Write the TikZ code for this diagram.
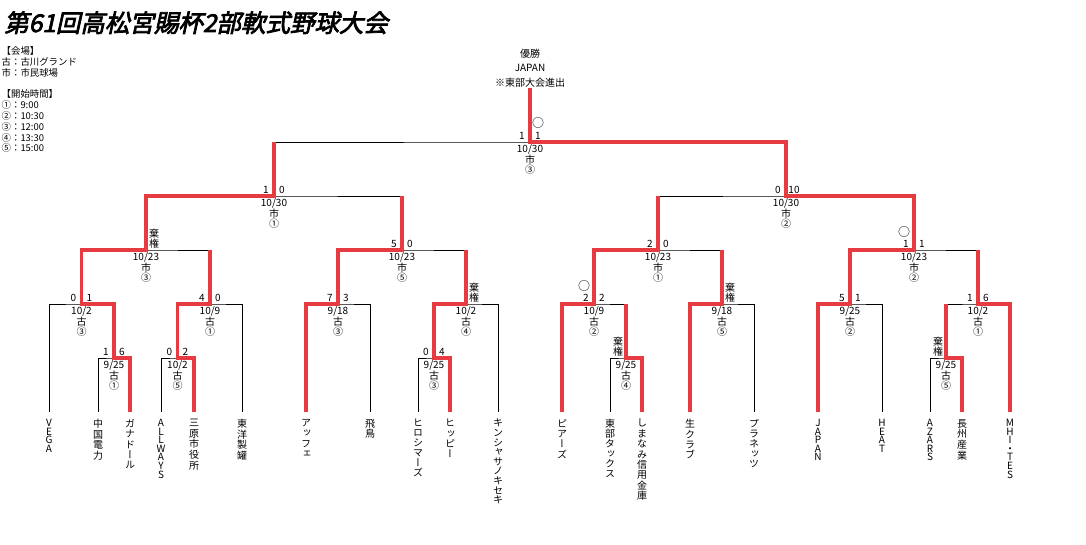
\documentclass[tikz,border=0pt]{standalone}
\usepackage{fontspec}
\setmainfont{Noto Sans CJK JP}
\newfontfamily\titlefont[FakeSlant=0.22,FakeBold=3]{Noto Sans CJK JP}
\newfontfamily\vfont[RawFeature=+vert]{Noto Sans CJK JP}
\usetikzlibrary{positioning}
\definecolor{winred}{HTML}{E63C41}

% one character per line, for the team names
\newcommand\stackchars[1]{\expandafter\stackloop#1\endstack}
\def\stackloop#1#2\endstack{#1\ifx\relax#2\relax\else\\\stackloop#2\endstack\fi}
\newcommand\kiken{棄\\権}

\tikzset{
  every node/.style={font=\fontsize{10}{10}\selectfont, inner sep=0.5pt},
  bracket/.style={line width=0.9pt},
  winline/.style={winred, line width=3.2pt},
  teamname/.style={align=center, anchor=north, inner sep=0pt, font=\vfont\fontsize{10}{#1}\selectfont},
  score/.style={anchor=south, align=center},
  info/.style={anchor=north, align=center},
  lotmark/.style={font=\fontsize{12}{12}\selectfont},
}

\begin{document}
\begin{tikzpicture}[x=1pt, y=-1pt]
  \useasboundingbox (0,0) rectangle (1086,545);

  \node[anchor=base west, inner sep=0pt, font=\titlefont\fontsize{24.5}{26}\selectfont] (title) at (4,32) {第61回高松宮賜杯2部軟式野球大会};
  \node[anchor=north west, align=left, font=\fontsize{9.4}{10.8}\selectfont] (legend) at (1,46)
    {【会場】\\古：古川グランド\\市：市民球場\\[10.8pt]【開始時間】\\①：9:00\\②：10:30\\③：12:00\\④：13:30\\⑤：15:00};
  \node[anchor=south, align=center, font=\fontsize{10}{14.5}\selectfont] (champ) at (530,88) {優勝\\JAPAN\\※東部大会進出};

  % teams
  \foreach \n/\x/\b/\name in {
    1/49/8.6/VEGA, 2/98/10.6/中国電力, 3/130/10.4/ガナドール, 4/161/8.6/ALLWAYS,
    5/194/10.6/三原市役所, 6/242/10.6/東洋製罐, 7/306/10.4/アッフェ, 8/370/10.6/飛鳥,
    9/418/10/ヒロシマーズ, 10/450/10.4/ヒッピー, 11/498/9.6/キンシャサノキセキ,
    12/562/10.4/ピアーズ, 13/610/10/東部タックス, 14/642/10.4/しまなみ信用金庫,
    15/690/10.4/生クラブ, 16/754/10/プラネッツ, 17/818/8.6/JAPAN, 18/882/8.6/HEAT,
    19/930/8.6/AZARS, 20/962/10.6/長州産業, 21/1010/8.6/MHI・TES} {
    \coordinate (t\n) at (\x,412);
    \node[teamname=\b, below=7pt of t\n] (n\n) {\stackchars{\name}};
  }

  % matches
  \foreach \m/\x/\y/\l/\r/\d/\v/\t in {
    ma/114/358/1/6/{9/25}/古/①, mb/81.5/304/0/1/{10/2}/古/③,
    mc/177.5/358/0/2/{10/2}/古/⑤, md/210/304/4/0/{10/9}/古/①,
    me/146/250/{}/\kiken/{10/23}/市/③, mf/338/304/7/3/{9/18}/古/③,
    mg/434/358/0/4/{9/25}/古/③, mh/466/304/{}/\kiken/{10/2}/古/④,
    mi/402/250/5/0/{10/23}/市/⑤, mj/274/196/1/0/{10/30}/市/①,
    mk/626/358/\kiken/{}/{9/25}/古/④, ml/594/304/2/2/{10/9}/古/②,
    mm/722/304/{}/\kiken/{9/18}/古/⑤, mn/658/250/2/0/{10/23}/市/①,
    mo/850/304/5/1/{9/25}/古/②, mp/946/358/\kiken/{}/{9/25}/古/⑤,
    mq/978/304/1/6/{10/2}/古/①, mr/914/250/1/1/{10/23}/市/②,
    ms/786/196/0/10/{10/30}/市/②, mF/530/142/1/1/{10/30}/市/③} {
    \coordinate (\m) at (\x,\y);
    \node[score] at (\x-8,\y-1.5) {\l};
    \node[score] at (\x+8,\y-1.5) {\r};
    \node[info] at (\x,\y+2) {\d\\\v\\\t};
  }
  \node[lotmark] (lot1) at (538,123) {○};
  \node[lotmark] (lot2) at (584,286) {○};
  \node[lotmark] (lot3) at (904,232) {○};

  % bracket lines
  \foreach \a/\m/\b in {t2/ma/t3, t1/mb/ma, t4/mc/t5, mc/md/t6, mb/me/md,
    t7/mf/t8, t9/mg/t10, mg/mh/t11, mf/mi/mh, me/mj/mi,
    t13/mk/t14, t12/ml/mk, t15/mm/t16, ml/mn/mm, t17/mo/t18,
    t19/mp/t20, mp/mq/t21, mo/mr/mq, mn/ms/mr, mj/mF/ms}
    \draw[bracket] (\a) |- (\m) -| (\b);

  % winners
  \draw[winline] (t3) |- (ma) |- (mb) |- (me) |- (mj) -- (mj |- mF);
  \draw[winline] (t5) |- (mc) |- (md) -- (md |- me);
  \draw[winline] (t7) |- (mf) |- (mi) -- (mi |- mj);
  \draw[winline] (t10) |- (mg) |- (mh) -- (mh |- mi);
  \draw[winline] (t14) |- (mk) -- (mk |- ml);
  \draw[winline] (t12) |- (ml) |- (mn) -- (mn |- ms);
  \draw[winline] (t15) |- (mm) -- (mm |- mn);
  \draw[winline] (t20) |- (mp) -- (mp |- mq);
  \draw[winline] (t21) |- (mq) -- (mq |- mr);
  \draw[winline] (t17) |- (mo) |- (mr) |- (ms) |- (mF) -- (champ.south);
\end{tikzpicture}
\end{document}
